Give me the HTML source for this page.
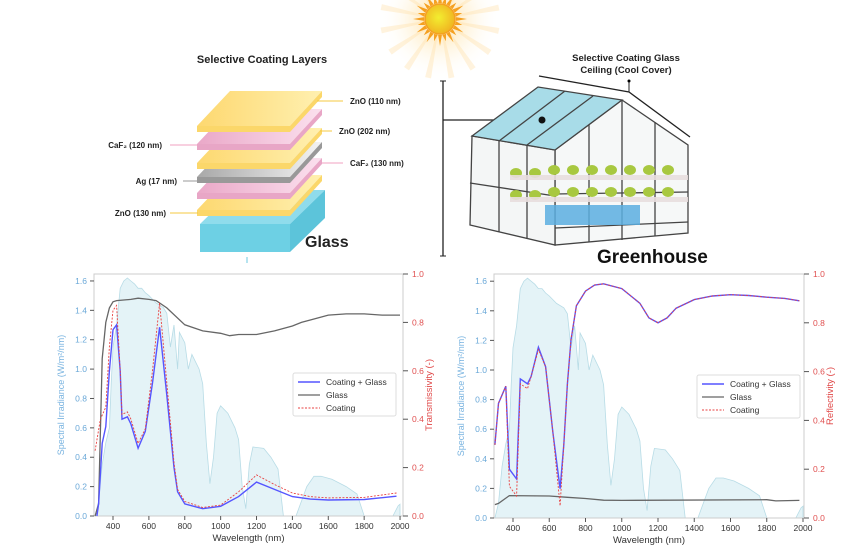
<!DOCTYPE html>
<html><head><meta charset="utf-8"><style>
body{margin:0;background:#fff;}
svg{display:block;font-family:"Liberation Sans",sans-serif;}
</style></head><body>
<svg id="s" width="855" height="558" viewBox="0 0 855 558" xmlns="http://www.w3.org/2000/svg">
<defs>
<radialGradient id="glow" cx="0.5" cy="0.5" r="0.5"><stop offset="0" stop-color="#ffd070" stop-opacity="0.7"/><stop offset="0.5" stop-color="#ffe6b0" stop-opacity="0.35"/><stop offset="1" stop-color="#fff" stop-opacity="0"/></radialGradient>
<radialGradient id="sunc" cx="0.45" cy="0.45" r="0.6"><stop offset="0" stop-color="#f2ee30"/><stop offset="1" stop-color="#f0b020"/></radialGradient>
<linearGradient id="yel" x1="0" x2="1"><stop offset="0" stop-color="#fdd870"/><stop offset="1" stop-color="#fff0b0"/></linearGradient>
<linearGradient id="pnk" x1="0" x2="1"><stop offset="0" stop-color="#eaa8c8"/><stop offset="1" stop-color="#fbe0ee"/></linearGradient>
<linearGradient id="gry" x1="0" x2="1"><stop offset="0" stop-color="#a8a8a8"/><stop offset="1" stop-color="#f4f4f4"/></linearGradient>
</defs>
<!-- sun -->
<circle cx="440" cy="20" r="60" fill="url(#glow)"/>
<g id="glowrays"></g>
<g id="rays"></g>
<circle cx="440" cy="19" r="15" fill="url(#sunc)" stroke="#f5a020" stroke-width="1.5"/>

<!-- layers diagram -->
<text x="262" y="63" font-size="11" font-weight="bold" text-anchor="middle" fill="#222">Selective Coating Layers</text>
<g id="plates"></g>
<text x="305" y="247" font-size="16" font-weight="bold" fill="#222">Glass</text>
<g font-size="8" font-weight="bold" fill="#222">
<line x1="317" y1="101" x2="343" y2="101" stroke="#f5c842"/><text x="350" y="104">ZnO (110 nm)</text>
<line x1="320" y1="131" x2="332" y2="131" stroke="#f5c842"/><text x="339" y="134">ZnO (202 nm)</text>
<line x1="322" y1="163" x2="343" y2="163" stroke="#f2a0c0"/><text x="350" y="166">CaF₂ (130 nm)</text>
<line x1="170" y1="145" x2="197" y2="145" stroke="#f2a0c0"/><text x="162" y="148" text-anchor="end">CaF₂ (120 nm)</text>
<line x1="183" y1="181" x2="198" y2="181" stroke="#999"/><text x="177" y="184" text-anchor="end">Ag (17 nm)</text>
<line x1="170" y1="213" x2="198" y2="213" stroke="#f5c842"/><text x="166" y="216" text-anchor="end">ZnO (130 nm)</text>
</g>
<line x1="247" y1="257" x2="247" y2="263" stroke="#6cc8e0"/>

<!-- greenhouse -->
<text x="626" y="61" font-size="9.5" font-weight="bold" text-anchor="middle" fill="#222">Selective Coating Glass</text>
<text x="626" y="73" font-size="9.5" font-weight="bold" text-anchor="middle" fill="#222">Ceiling  (Cool Cover)</text>
<polyline points="539,76 629,92 690,137" fill="none" stroke="#222" stroke-width="1.3"/>
<line x1="629" y1="92" x2="629" y2="82" stroke="#222"/><circle cx="629" cy="81" r="1.5"/>
<line x1="443" y1="81" x2="443" y2="256" stroke="#222" stroke-width="1.3"/>
<line x1="440" y1="81" x2="446" y2="81" stroke="#222"/><line x1="440" y1="256" x2="446" y2="256" stroke="#222"/>
<line x1="443" y1="120" x2="542" y2="120" stroke="#222" stroke-width="1.3"/>
<g stroke="#444" stroke-width="1.3" fill="none">
<polygon points="555,150 622,100 688,145 688,233 555,245" fill="#f6f8f8"/>
<polygon points="472,136 555,150 555,245 470,225" fill="#f4f6f6"/>
<line x1="470" y1="183" x2="555" y2="196"/><line x1="555" y1="194" x2="688" y2="192"/>
<line x1="499" y1="141" x2="499" y2="232"/><line x1="527" y1="145" x2="527" y2="239"/>
<line x1="589" y1="125" x2="589" y2="242"/><line x1="622" y1="100" x2="622" y2="240"/><line x1="655" y1="122" x2="655" y2="236"/>
<line x1="555" y1="228" x2="688" y2="222"/>
</g>
<rect x="545" y="205" width="95" height="20" fill="#5aaee0" opacity="0.85"/>
<g id="plants"></g>
<polygon points="472,136 538,87 622,100 555,150" fill="#a8dce8" stroke="#444" stroke-width="1.3"/>
<line x1="499" y1="141" x2="565" y2="91" stroke="#444" stroke-width="1.3"/>
<line x1="527" y1="145" x2="593" y2="96" stroke="#444" stroke-width="1.3"/>
<circle cx="542" cy="120" r="3.5" fill="#111"/>
<text x="597" y="263" font-size="19" font-weight="bold" fill="#111">Greenhouse</text>

<g id="charts"></g>
</svg>
<script>
var NS="http://www.w3.org/2000/svg";
function el(p,t,a,txt){var e=document.createElementNS(NS,t);for(var k in a)e.setAttribute(k,a[k]);if(txt!==undefined)e.textContent=txt;p.appendChild(e);return e;}
var GR=document.getElementById('glowrays');
for(var i=0;i<16;i++){var a=i*Math.PI/8+0.2,b=a+0.05,c=a-0.05;
el(GR,'polygon',{points:"440,19 "+(440+60*Math.cos(b))+","+(19+60*Math.sin(b))+" "+(440+60*Math.cos(c))+","+(19+60*Math.sin(c)),fill:"#ffdca0",opacity:0.35});}
var R=document.getElementById('rays');
for(var i=0;i<24;i++){var a=i*Math.PI/12,b=a+0.12,c=a-0.12,r2=(i%2?23:27);
el(R,'polygon',{points:(440+16*Math.cos(b))+","+(19+16*Math.sin(b))+" "+(440+r2*Math.cos(a))+","+(19+r2*Math.sin(a))+" "+(440+16*Math.cos(c))+","+(19+16*Math.sin(c)),fill:"#f5a020"});}
var P=document.getElementById('plates');
function plate(y,fill,side){el(P,'polygon',{points:"197,"+y+" 290,"+y+" 322,"+(y-35)+" 230,"+(y-35),fill:fill});
el(P,'polygon',{points:"197,"+y+" 290,"+y+" 290,"+(y+6)+" 197,"+(y+6),fill:side});
el(P,'polygon',{points:"290,"+y+" 322,"+(y-35)+" 322,"+(y-29)+" 290,"+(y+6),fill:side});}
el(P,'polygon',{points:"200,224 290,224 325,190 235,190",fill:"#8fdcec"});
el(P,'polygon',{points:"200,224 290,224 290,252 200,252",fill:"#6dd0e4"});
el(P,'polygon',{points:"290,224 325,190 325,218 290,252",fill:"#5cc4da"});
plate(210,"url(#yel)","#fbd76a");
plate(193,"url(#pnk)","#e8a6c6");
plate(177,"url(#gry)","#999");
plate(163,"url(#yel)","#fbd76a");
plate(144,"url(#pnk)","#e8a6c6");
plate(126,"url(#yel)","#fbd76a");
var PL=document.getElementById('plants');
[[170,0],[192,0]].forEach(function(r){for(var i=0;i<9;i++){var x=516+i*19,y=r[0]+(i<2?3:0);el(PL,'ellipse',{cx:x,cy:y,rx:6,ry:5,fill:"#a8c840"});}
el(PL,'rect',{x:510,y:r[0]+5,width:178,height:5,fill:"#e8dede",opacity:0.9});});

var C=document.getElementById('charts');
var solar=[[300,0],[320,0.1],[340,0.35],[360,0.5],[380,0.6],[390,0.9],[400,1.15],[420,1.3],[440,1.55],[460,1.6],[480,1.62],[500,1.6],[520,1.58],[540,1.55],[560,1.55],[580,1.52],[600,1.5],[640,1.45],[680,1.42],[700,1.38],[720,1.15],[740,1.3],[760,1.0],[770,1.25],[800,1.18],[820,1.0],[840,1.1],[880,1.0],[900,0.9],[920,0.5],[940,0.22],[960,0.4],[980,0.7],[1000,0.75],[1040,0.7],[1080,0.6],[1100,0.52],[1120,0.2],[1140,0.05],[1160,0.35],[1180,0.47],[1240,0.46],[1280,0.4],[1320,0.32],[1350,0],[1420,0],[1450,0.1],[1480,0.2],[1520,0.27],[1560,0.27],[1620,0.25],[1700,0.2],[1760,0.15],[1800,0],[1960,0],[1990,0.07],[2000,0.08]];
function chart(o){
 var X=function(l){return o.x0+(l-400)*o.sx;},YL=function(v){return o.yb-v*o.ul;},YR=function(v){return o.yb-v*(o.yb-o.yt);};
 var g=el(C,'g',{});
 var d="M"+X(300)+","+o.yb;solar.forEach(function(p){d+=" L"+X(p[0]).toFixed(1)+","+YL(p[1]).toFixed(1);});d+=" L"+X(2000)+","+o.yb+"Z";
 el(g,'path',{d:d,fill:"#e4f3f7",stroke:"#b8dce6","stroke-width":0.8});
 el(g,'rect',{x:o.l,y:o.yt,width:o.r-o.l,height:o.yb-o.yt,fill:"none",stroke:"#ccc","stroke-width":1});
 function line(data,st){var s="";data.forEach(function(p,i){s+=(i?" L":"M")+X(p[0]).toFixed(1)+","+YR(p[1]).toFixed(1);});
  var a={d:s,fill:"none"};for(var k in st)a[k]=st[k];el(g,'path',a);}
 line(o.glass,{stroke:"#666","stroke-width":1.3});
 line(o.cg,{stroke:"#5555ff","stroke-width":1.4});
 line(o.co,{stroke:"#e84040","stroke-width":0.9,"stroke-dasharray":"2,1.5"});
 for(var v=0;v<=1.6001;v+=0.2){var y=YL(v);el(g,'line',{x1:o.l-4,y1:y,x2:o.l,y2:y,stroke:"#555"});
  el(g,'text',{x:o.l-7,y:y+3,"font-size":8.5,"text-anchor":"end",fill:"#6aa8d8"},v.toFixed(1));}
 for(var t=0;t<=1.0001;t+=0.2){var y=YR(t);el(g,'line',{x1:o.r,y1:y,x2:o.r+5,y2:y,stroke:"#555"});
  el(g,'text',{x:o.r+9,y:y+3,"font-size":8.5,fill:"#e05050"},t.toFixed(1));}
 for(var l=400;l<=2000;l+=200){var x=X(l);el(g,'line',{x1:x,y1:o.yb,x2:x,y2:o.yb+4,stroke:"#555"});
  el(g,'text',{x:x,y:o.yb+13,"font-size":8.5,"text-anchor":"middle",fill:"#333"},l);}
 el(g,'text',{x:(o.l+o.r)/2,y:o.yb+25,"font-size":9.5,"text-anchor":"middle",fill:"#333"},"Wavelength (nm)");
 var cy=(o.yt+o.yb)/2;
 el(g,'text',{x:0,y:0,"font-size":9,"text-anchor":"middle",fill:"#7ab4e0",transform:"translate("+(o.l-30)+","+cy+") rotate(-90)"},"Spectral Irradiance (W/m²/nm)");
 el(g,'text',{x:0,y:0,"font-size":9.5,"text-anchor":"middle",fill:"#e04848",transform:"translate("+(o.r+29)+","+cy+") rotate(-90)"},o.rlab);
 var lx=o.lg[0],ly=o.lg[1];
 el(g,'rect',{x:lx,y:ly,width:103,height:43,fill:"#fff",stroke:"#ddd",rx:2});
 [["Coating + Glass","#5555ff",null,1.4],["Glass","#666",null,1.3],["Coating","#e84040","2,1.5",0.9]].forEach(function(it,i){
  var yy=ly+9+i*13;var a={x1:lx+5,y1:yy,x2:lx+27,y2:yy,stroke:it[1],"stroke-width":it[3]};if(it[2])a["stroke-dasharray"]=it[2];
  el(g,'line',a);el(g,'text',{x:lx+33,y:yy+3,"font-size":8.5,fill:"#333"},it[0]);});
}
chart({x0:113,sx:0.1794,l:94,r:403,yt:274,yb:516,ul:146.9,rlab:"Transmissivity (-)",lg:[293,373],
glass:[[300,0],[320,0.05],[340,0.65],[360,0.8],[380,0.86],[400,0.885],[420,0.89],[500,0.895],[540,0.9],[600,0.895],[640,0.89],[700,0.86],[800,0.79],[900,0.765],[1000,0.755],[1050,0.745],[1100,0.75],[1200,0.75],[1300,0.765],[1400,0.785],[1450,0.8],[1500,0.81],[1600,0.83],[1700,0.835],[1800,0.835],[1900,0.83],[2000,0.83]],
cg:[[310,0],[320,0.05],[340,0.3],[360,0.37],[380,0.6],[400,0.77],[420,0.79],[440,0.6],[450,0.4],[480,0.41],[500,0.38],[540,0.28],[580,0.35],[620,0.55],[660,0.78],[700,0.5],[740,0.2],[760,0.1],[800,0.05],[900,0.03],[1000,0.04],[1100,0.08],[1200,0.14],[1300,0.11],[1400,0.08],[1500,0.07],[1600,0.066],[1800,0.068],[1980,0.082]],
co:[[300,0.27],[330,0.4],[360,0.45],[380,0.7],[400,0.85],[420,0.87],[440,0.6],[450,0.42],[480,0.43],[500,0.4],[540,0.3],[580,0.36],[620,0.6],[660,0.88],[700,0.55],[740,0.22],[760,0.11],[800,0.06],[900,0.035],[1000,0.045],[1100,0.1],[1200,0.17],[1300,0.13],[1400,0.095],[1500,0.08],[1600,0.075],[1800,0.077],[1980,0.095]]});
var rb=[[300,0.3],[320,0.47],[360,0.54],[380,0.2],[420,0.16],[440,0.57],[480,0.55],[500,0.58],[540,0.7],[580,0.62],[620,0.35],[660,0.12],[680,0.3],[700,0.55],[720,0.73],[750,0.87],[800,0.93],[850,0.955],[900,0.96],[1000,0.94],[1100,0.88],[1150,0.82],[1200,0.8],[1250,0.82],[1300,0.86],[1400,0.895],[1500,0.91],[1600,0.915],[1700,0.912],[1800,0.905],[1900,0.9],[1980,0.89]];
var rr=rb.map(function(p){var v=p[1];if(p[0]==380)v=0.13;if(p[0]==420)v=0.09;if(p[0]==660)v=0.05;if(p[0]==440)v=0.55;if(p[0]==480)v=0.53;if(p[0]==540)v=0.69;return [p[0],v];});
chart({x0:513,sx:0.18125,l:494,r:804,yt:274,yb:518,ul:148,rlab:"Reflectivity (-)",lg:[697,375],
glass:[[300,0.055],[320,0.06],[380,0.092],[600,0.09],[700,0.085],[800,0.08],[900,0.073],[1000,0.072],[1800,0.075],[1850,0.07],[1980,0.072]],
cg:rb,co:rr});
</script>
</body></html>
